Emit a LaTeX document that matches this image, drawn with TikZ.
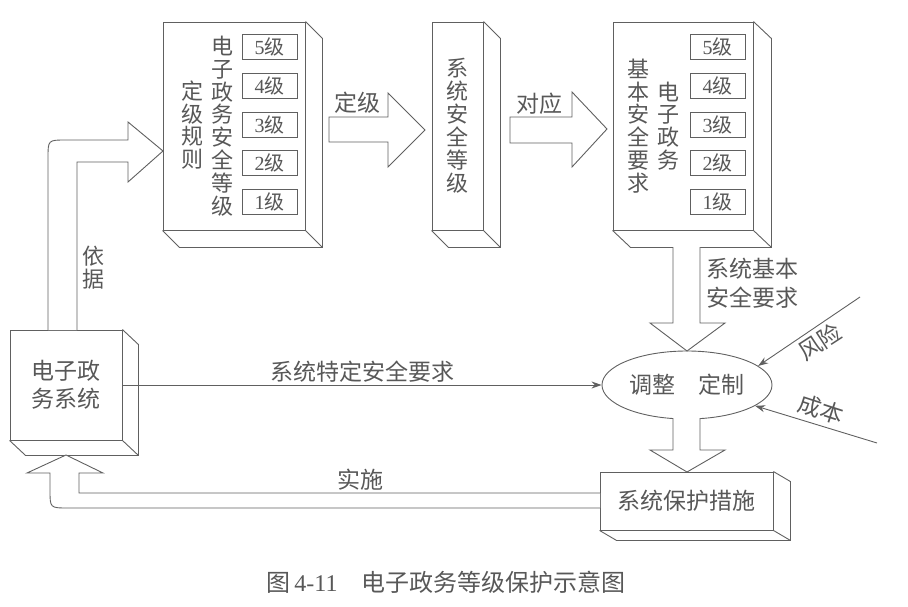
\documentclass[tikz,border=0pt]{standalone}
\usepackage{fontspec}
\setmainfont{Noto Sans CJK SC}
\newfontfamily\lat{Liberation Serif}
\usepackage{tikz}
\usetikzlibrary{arrows.meta,shapes.geometric,calc}
\definecolor{cline}{HTML}{606060}
\definecolor{ctext}{HTML}{585858}
\tikzset{
  face/.style={draw=cline,line width=0.9pt,fill=white,inner sep=0pt,align=center,text=ctext,font=\fontsize{22}{23}\selectfont},
  lvl/.style={draw=cline,line width=0.9pt,minimum width=55pt,minimum height=25pt,inner sep=0pt,text=ctext,font=\fontsize{20}{22}\selectfont},
  col/.style={inner sep=0pt,align=center,text=ctext,font=\fontsize{22}{22.8}\selectfont},
  lbl/.style={inner sep=0pt,align=left,text=ctext,font=\fontsize{23}{29}\selectfont},
  blk/.style={draw=cline,line width=0.9pt,fill=white,line join=miter},
  thin/.style={draw=cline,line width=0.9pt,-{Stealth[length=10pt,width=7pt]}},
  >=Stealth
}

\begin{document}
\begin{tikzpicture}[x=1pt,y=-1pt]
  \useasboundingbox (0,0) rectangle (908,607);

  % boxes
  \node[face,minimum width=142pt,minimum height=208pt] (rule) at (234,126) {};
  \node[face,minimum width=51pt,minimum height=208pt] (grade) at (457.5,126) {系\\统\\安\\全\\等\\级};
  \node[face,minimum width=140pt,minimum height=208pt] (req) at (683,126) {};
  \node[face,minimum width=112pt,minimum height=110pt,font=\fontsize{23}{28}\selectfont] (sys) at (66,385) {电子政\\务系统};
  \node[face,minimum width=173pt,minimum height=58pt,font=\fontsize{23}{24}\selectfont] (meas) at (686.5,501) {系统保护措施};
  \node[draw=cline,line width=0.9pt,ellipse,minimum width=170pt,minimum height=68pt,inner sep=0pt,text=ctext,font=\fontsize{23}{24}\selectfont] (adj) at (687,385) {调整　定制};

  \foreach \n/\dx/\dy in {rule/17/17,grade/17/17,req/18/17,sys/16/15,meas/17/10}
    \draw[cline,line width=0.9pt] (\n.north east) -- ++(\dx,\dy) -- ($(\n.south east)+(\dx,\dy)$)
      -- ($(\n.south west)+(\dx,\dy)$) -- (\n.south west) (\n.south east) -- ++(\dx,\dy);

  % levels
  \foreach \k in {1,...,5} {
    \node[lvl] (r\k) at (269.5,{202-38.75*(\k-1)}) {{\lat\k}级};
    \node[lvl] (q\k) at (717.5,{202-38.75*(\k-1)}) {{\lat\k}级};
  }
  \node[col] (ruletxt) at (222,126) {电\\子\\政\\务\\安\\全\\等\\级};
  \node[col] (ruledef) at (192,125) {定\\级\\规\\则};
  \node[col] (reqtxt) at (638,126) {基\\本\\安\\全\\要\\求};
  \node[col] (reqgov) at (668,126) {电\\子\\政\\务};

  % block arrows
  \draw[blk] (329,117) -- (388,117) -- (388,93) -- (425,130) -- (388,167) -- (388,142) -- (329,142) -- cycle;
  \node[lbl] (lgrade) at (357,103) {定级};
  \draw[blk] (510,117) -- (572,117) -- (572,92) -- (607,129) -- (572,167) -- (572,143) -- (510,143) -- cycle;
  \node[lbl] (lmap) at (539,104) {对应};
  \draw[blk] (673,247) -- (673,323) -- (650,323) -- (687,351) -- (725,323) -- (700,323) -- (700,247);
  \node[lbl] (lbase) at (752,283) {系统基本\\安全要求};
  \draw[blk] (673,418) -- (673,450) -- (650,450) -- (687,472) -- (725,450) -- (700,450) -- (700,418);
  \draw[blk] (48,330) -- (48,158) .. controls (48,140) .. (66,140) -- (128,140) -- (128,122)
    -- (163,151) -- (128,182) -- (128,162) -- (77,162) -- (77,330);
  \node[col] (lbasis) at (93,268) {依\\据};
  \draw[blk] (600,493) -- (79,493) -- (79,473) -- (103,473) -- (66,455) -- (27,473) -- (50,473)
    -- (50,490) .. controls (50,508) .. (68,508) -- (600,508);
  \node[lbl] (limpl) at (360,480) {实施};

  % thin arrows
  \draw[thin] (sys.east) -- (adj.west) node[lbl,midway,above=2pt] (lspec) {系统特定安全要求};
  \coordinate (risk) at (860,297);
  \coordinate (cost) at (877,443);
  \draw[thin] (risk) -- (adj.15);
  \draw[thin] (cost) -- (adj.343);
  \node[lbl,rotate=33] (lrisk) at (820,342) {风险};
  \node[lbl,rotate=-18] (lcost) at (821,409) {成本};

  \node[text=ctext,font=\fontsize{24}{26}\selectfont] (cap) at (446,582) {图\,{\lat 4-11}\quad 电子政务等级保护示意图};
\end{tikzpicture}
\end{document}
